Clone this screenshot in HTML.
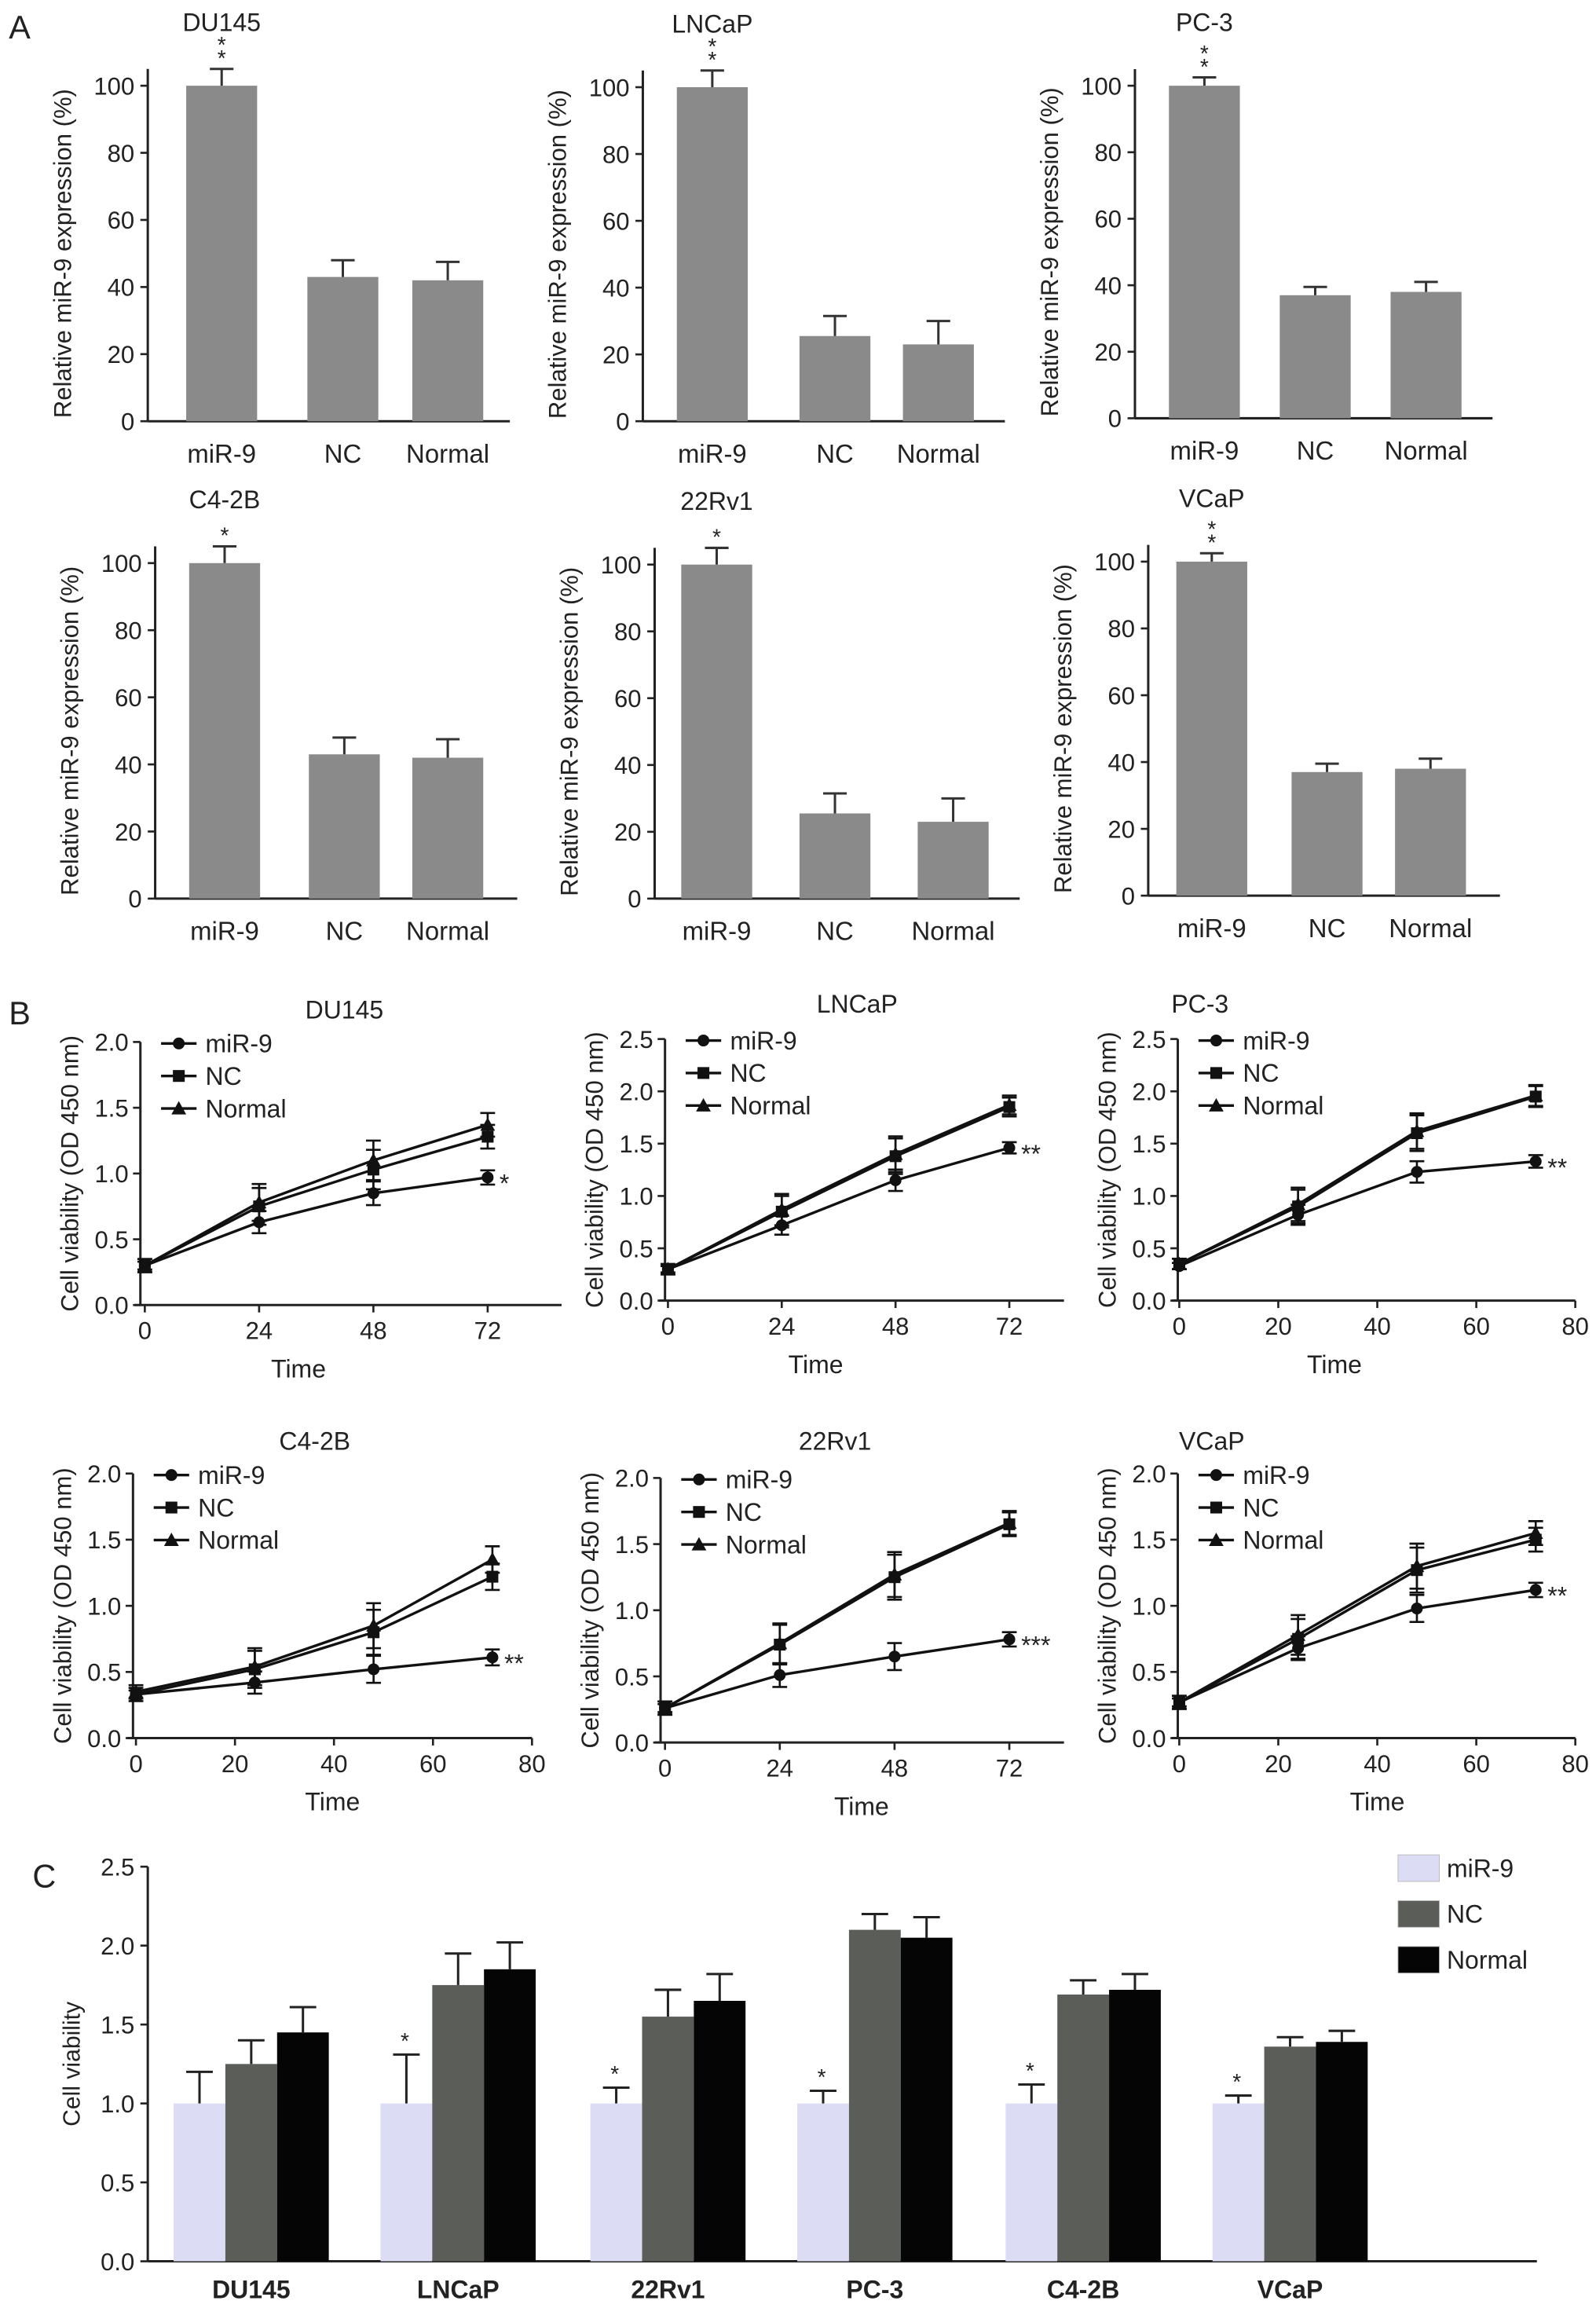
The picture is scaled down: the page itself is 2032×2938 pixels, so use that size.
<!DOCTYPE html>
<html><head><meta charset="utf-8"><style>
html,body{margin:0;padding:0;background:#fff}
svg{display:block}
text{font-family:"Liberation Sans",Arial,sans-serif;fill:#222}
</style></head><body>
<svg id="fig" width="2032" height="2938" viewBox="0 0 1080 1561.6" preserveAspectRatio="none" xmlns="http://www.w3.org/2000/svg"></svg>
<script>
// ---------- Panel A data ----------
const aCats = ["miR-9","NC","Normal"];
const aTitles = ["DU145","LNCaP","PC-3","C4-2B","22Rv1","VCaP"];
const aVals = [[100,43,42],[100,25.5,23],[100,37,38],[100,43,42],[100,25.5,23],[100,37,38]];
const aErrs = [[5,5,5.5],[5,6,7],[2.5,2.5,3],[5,5,5.5],[5,6,7],[2.5,2.5,3]];
const aStars = ["**","**","**","*","*","**"];
const aTicks = [0,20,40,60,80,100];
// ---------- Panel B data ----------
const bTitles = ["DU145","LNCaP","PC-3","C4-2B","22Rv1","VCaP"];
const bTimes = [0,24,48,72];
const bMir = [[0.3,0.63,0.85,0.97],[0.3,0.72,1.15,1.46],[0.33,0.82,1.23,1.33],[0.33,0.42,0.52,0.61],[0.26,0.51,0.65,0.78],[0.27,0.68,0.98,1.12]];
const bNC = [[0.3,0.75,1.03,1.28],[0.3,0.85,1.38,1.85],[0.35,0.9,1.6,1.95],[0.33,0.52,0.8,1.22],[0.26,0.74,1.25,1.65],[0.27,0.75,1.27,1.5]];
const bNorm = [[0.3,0.78,1.1,1.37],[0.3,0.87,1.4,1.87],[0.35,0.92,1.62,1.96],[0.35,0.54,0.85,1.35],[0.26,0.75,1.27,1.66],[0.27,0.78,1.3,1.55]];
const bErr = [[0.05,0.14,0.15,0.09],[0.05,0.15,0.17,0.09],[0.05,0.16,0.17,0.1],[0.05,0.14,0.17,0.1],[0.05,0.15,0.17,0.09],[0.05,0.15,0.17,0.09]];
const bStars = ["*","**","**","**","***","**"];
const bYMax = [2.0,2.5,2.5,2.0,2.0,2.0];
const bXTicks = [[0,24,48,72],[0,24,48,72],[0,20,40,60,80],[0,20,40,60,80],[0,24,48,72],[0,20,40,60,80]];
// ---------- Panel C data ----------
const cCats = ["DU145","LNCaP","22Rv1","PC-3","C4-2B","VCaP"];
const cMir = [1.0,1.0,1.0,1.0,1.0,1.0];
const cNC = [1.25,1.75,1.55,2.1,1.69,1.36];
const cNorm = [1.45,1.85,1.65,2.05,1.72,1.39];
const cMirE = [0.2,0.31,0.1,0.08,0.12,0.05];
const cNCE = [0.15,0.2,0.17,0.1,0.09,0.06];
const cNormE = [0.16,0.17,0.17,0.13,0.1,0.07];
const cTicks = [0,0.5,1.0,1.5,2.0,2.5];

const NS="http://www.w3.org/2000/svg";
const svg=document.getElementById('fig');
function el(tag,attrs,parent,txt){const e=document.createElementNS(NS,tag);for(const k in attrs)e.setAttribute(k,attrs[k]);if(txt!==undefined)e.textContent=txt;(parent||svg).appendChild(e);return e;}

let t;
t=el('text',{x:6,y:26,'font-size':22});t.textContent='A';
t=el('text',{x:6,y:693,'font-size':22});t.textContent='B';
t=el('text',{x:22,y:1277,'font-size':22});t.textContent='C';

// ---------- Panel A ----------
const aLayout=[{ax:100,y0:285,y100:58,cx:[150,232,303],xe:345},{ax:435,y0:285,y100:59,cx:[482,565,635],xe:680},{ax:768,y0:283,y100:58,cx:[815,890,965],xe:1010},
{ax:105,y0:608,y100:381,cx:[152,233,303],xe:350},{ax:443,y0:608,y100:382,cx:[485,565,645],xe:690},{ax:777,y0:606,y100:380,cx:[820,898,968],xe:1015}];
aLayout.forEach((L,i)=>{
  const g=el('g',{});
  
  
  const ys=v=>L.y0-(v/100)*(L.y0-L.y100);
  const tt=el('text',{x:L.cx[0],y:L.y100-37,'font-size':17,'text-anchor':'middle'},g,aTitles[i]);
  
  el('line',{x1:L.ax,y1:ys(105),x2:L.ax,y2:L.y0,stroke:'#222','stroke-width':1.6},g);
  el('line',{x1:L.ax,y1:L.y0,x2:L.xe,y2:L.y0,stroke:'#222','stroke-width':1.6},g);
  aTicks.forEach(v=>{el('line',{x1:L.ax-5,y1:ys(v),x2:L.ax,y2:ys(v),stroke:'#222','stroke-width':1.4},g);
    el('text',{x:L.ax-9,y:ys(v)+6,'font-size':16.5,'text-anchor':'end'},g,String(v));});
  const yl=el('text',{transform:`translate(${L.ax-52},${(L.y0+L.y100)/2}) rotate(-90)`,'font-size':16.5,'text-anchor':'middle'},g,'Relative miR-9 expression (%)');
  
  aVals[i].forEach((v,j)=>{
    const cx=L.cx[j],w=48;
    const b=el('rect',{x:cx-w/2,y:ys(v),width:w,height:L.y0-ys(v),fill:'#8a8a8a'},g);
    
    const e=aErrs[i][j];
    el('line',{x1:cx,y1:ys(v),x2:cx,y2:ys(v+e),stroke:'#333','stroke-width':1.6},g);
    el('line',{x1:cx-8,y1:ys(v+e),x2:cx+8,y2:ys(v+e),stroke:'#333','stroke-width':1.6},g);
    el('text',{x:cx,y:L.y0+28,'font-size':17.5,'text-anchor':'middle'},g,aCats[j]);
  });
  const s=aStars[i],cx=L.cx[0],top=ys(aVals[i][0]+aErrs[i][0]);
  if(s.length===2){el('text',{x:cx,y:top-2,'font-size':15,'text-anchor':'middle'},g,'*');el('text',{x:cx,y:top-11,'font-size':15,'text-anchor':'middle'},g,'*');}
  else el('text',{x:cx,y:top-2,'font-size':15,'text-anchor':'middle'},g,'*');
});

// ---------- Panel B ----------
const bLayout=[{ax:95,y0:883,ytop:705,x0:98,xMax:72,xMaxPx:330,xe:380,title:233,time:202,tY:679},
{ax:450,y0:880,ytop:703,x0:452,xMax:72,xMaxPx:683,xe:720,title:580,time:552,tY:675},
{ax:797,y0:880,ytop:703,x0:798,xMax:80,xMaxPx:1066,xe:1066,title:812,time:903,tY:675},
{ax:90,y0:1176,ytop:997,x0:92,xMax:80,xMaxPx:360,xe:360,title:213,time:225,tY:971},
{ax:447,y0:1179,ytop:1000,x0:450,xMax:72,xMaxPx:683,xe:720,title:565,time:583,tY:971},
{ax:797,y0:1176,ytop:997,x0:798,xMax:80,xMaxPx:1066,xe:1066,title:820,time:932,tY:971}];
function marker(g,type,x,y,r){
  if(type==='circle')return el('circle',{cx:x,cy:y,r:r,fill:'#111'},g);
  if(type==='square')return el('rect',{x:x-r,y:y-r,width:2*r,height:2*r,fill:'#111'},g);
  return el('polygon',{points:`${x},${y-r-1} ${x-r-1},${y+r} ${x+r+1},${y+r}`,fill:'#111'},g);
}
bLayout.forEach((L,i)=>{
  const g=el('g',{});
  
  
  const ys=v=>L.y0-(v/bYMax[i])*(L.y0-L.ytop);
  const xs=v=>L.x0+(v/L.xMax)*(L.xMaxPx-L.x0);
  const tt=el('text',{x:L.title,y:L.tY+10,'font-size':17,'text-anchor':'middle'},g,bTitles[i]);
  
  el('line',{x1:L.ax,y1:L.ytop,x2:L.ax,y2:L.y0,stroke:'#222','stroke-width':1.6},g);
  el('line',{x1:L.ax-4,y1:L.y0,x2:L.xe,y2:L.y0,stroke:'#222','stroke-width':1.6},g);
  for(let v=0;v<=bYMax[i]+1e-9;v+=0.5){el('line',{x1:L.ax-5,y1:ys(v),x2:L.ax,y2:ys(v),stroke:'#222','stroke-width':1.4},g);
    el('text',{x:L.ax-8,y:ys(v)+6,'font-size':16.5,'text-anchor':'end'},g,v.toFixed(1));}
  bXTicks[i].forEach(v=>{el('line',{x1:xs(v),y1:L.y0,x2:xs(v),y2:L.y0+5,stroke:'#222','stroke-width':1.4},g);
    el('text',{x:xs(v),y:L.y0+23,'font-size':16.5,'text-anchor':'middle'},g,String(v));});
  const xl=el('text',{x:L.time,y:L.y0+49,'font-size':17,'text-anchor':'middle'},g,'Time');
  
  const yl=el('text',{transform:`translate(${L.ax-42},${(L.y0+L.ytop)/2}) rotate(-90)`,'font-size':16.5,'text-anchor':'middle'},g,'Cell viability (OD 450 nm)');
  
  const series=[[bMir[i],'circle','miR-9'],[bNC[i],'square','NC'],[bNorm[i],'triangle','Normal']];
  series.forEach(([vals,type,name])=>{
    const pts=vals.map((v,k)=>xs(bTimes[k])+','+ys(v)).join(' ');
    const pl=el('polyline',{points:pts,fill:'none',stroke:'#111','stroke-width':1.8},g);
    
    vals.forEach((v,k)=>{
      const x=xs(bTimes[k]),e=bErr[i][k]*(name==='miR-9'?0.6:1);
      el('line',{x1:x,y1:ys(v-e),x2:x,y2:ys(v+e),stroke:'#111','stroke-width':1.4},g);
      el('line',{x1:x-5,y1:ys(v-e),x2:x+5,y2:ys(v-e),stroke:'#111','stroke-width':1.4},g);
      el('line',{x1:x-5,y1:ys(v+e),x2:x+5,y2:ys(v+e),stroke:'#111','stroke-width':1.4},g);
      const m=marker(g,type,x,ys(v),4);
      
    });
  });
  const last=bMir[i][3];
  el('text',{x:xs(72)+8,y:ys(last)+10,'font-size':17},g,bStars[i]);
  const lx=L.ax+14,ly=L.ytop+1;
  series.forEach(([v,type,name],k)=>{
    const lg=el('g',{},g);
    const yy=ly+k*22;
    el('line',{x1:lx,y1:yy,x2:lx+24,y2:yy,stroke:'#111','stroke-width':1.8},lg);
    marker(lg,type,lx+12,yy,4);
    el('text',{x:lx+30,y:yy+6,'font-size':17},lg,name);
  });
});

// ---------- Panel C ----------
(function(){
  const g=el('g',{});
  
  
  const ax=100,y0=1530,ytop=1263,xe=1040;
  const ys=v=>y0-(v/2.5)*(y0-ytop);
  const centers=[170,310,452,592,733,873];
  el('line',{x1:ax,y1:ytop,x2:ax,y2:y0,stroke:'#222','stroke-width':1.6},g);
  el('line',{x1:ax,y1:y0,x2:xe,y2:y0,stroke:'#222','stroke-width':1.6},g);
  cTicks.forEach(v=>{el('line',{x1:ax-5,y1:ys(v),x2:ax,y2:ys(v),stroke:'#222','stroke-width':1.4},g);
    el('text',{x:ax-9,y:ys(v)+6,'font-size':16.5,'text-anchor':'end'},g,v.toFixed(1));});
  const yl=el('text',{transform:`translate(${ax-46},${(y0+ytop)/2}) rotate(-90)`,'font-size':16,'text-anchor':'middle'},g,'Cell viability');
  
  const ser=[[cMir,cMirE,'#dcdcf5','mir-9'],[cNC,cNCE,'#5a5d58','nc'],[cNorm,cNormE,'#050505','normal']];
  const w=35;
  cCats.forEach((c,i)=>{
    ser.forEach(([vals,errs,col,nm],j)=>{
      const x=centers[i]-52.5+j*w,v=vals[i],e=errs[i];
      const b=el('rect',{x:x,y:ys(v),width:w,height:y0-ys(v),fill:col},g);
      
      const cx=x+w/2;
      el('line',{x1:cx,y1:ys(v),x2:cx,y2:ys(v+e),stroke:'#222','stroke-width':1.6},g);
      el('line',{x1:cx-9,y1:ys(v+e),x2:cx+9,y2:ys(v+e),stroke:'#222','stroke-width':1.6},g);
      if(j===0&&i>0)el('text',{x:cx-1,y:ys(v+e)-4,'font-size':15,'text-anchor':'middle'},g,'*');
    });
    el('text',{x:centers[i],y:y0+25,'font-size':17,'font-weight':'bold','text-anchor':'middle'},g,c);
  });
  const names=['miR-9','NC','Normal'];
  ser.forEach(([v,e,col,nm],k)=>{
    const lg=el('g',{},g);
    const yy=1255+k*31;
    el('rect',{x:946,y:yy,width:28,height:18,fill:col,stroke:'#bbb','stroke-width':0.5},lg);
    el('text',{x:979,y:yy+15,'font-size':17},lg,names[k]);
  });
})();
</script>
</body></html>
